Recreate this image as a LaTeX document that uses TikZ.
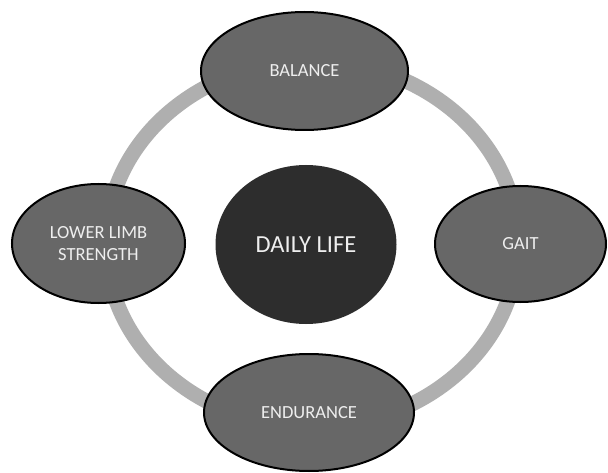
\documentclass[tikz,border=0pt]{standalone}
\usepackage{fontspec}
\setmainfont{Carlito}
\usetikzlibrary{shapes.geometric}
\definecolor{ringgray}{HTML}{AFAFAF}
\definecolor{ovalgray}{HTML}{676767}
\definecolor{coredark}{HTML}{2D2D2D}
\definecolor{txt}{HTML}{EEEEEE}
\begin{document}
\begin{tikzpicture}[x=1pt,y=-1pt,
  oval/.style={ellipse, draw=black, line width=2pt, fill=ovalgray, text=txt,
    font=\fontsize{18.5}{22}\selectfont, align=center, inner sep=0pt},
  core/.style={ellipse, fill=coredark, text=txt, font=\fontsize{24.5}{29}\selectfont,
    minimum width=181pt, minimum height=159pt, inner sep=0pt}]
\useasboundingbox (0,0) rectangle (608,473);
\fill[white] (0,0) rectangle (608,473);
\coordinate (rc) at (312,244);
\draw[ringgray, line width=15pt] (rc) ellipse [x radius=206, y radius=183];
\node[core] (life) at (306,244.5) {DAILY LIFE};
\node[oval, minimum width=207pt, minimum height=118pt] (bal) at (304.5,71) {BALANCE};
\node[oval, minimum width=173pt, minimum height=119pt] (lls) at (98.5,243.5) {LOWER LIMB\\STRENGTH};
\node[oval, minimum width=171pt, minimum height=116pt] (gait) at (520.5,244) {GAIT};
\node[oval, minimum width=210pt, minimum height=117pt] (end) at (309,412.5) {ENDURANCE};
\end{tikzpicture}
\end{document}
